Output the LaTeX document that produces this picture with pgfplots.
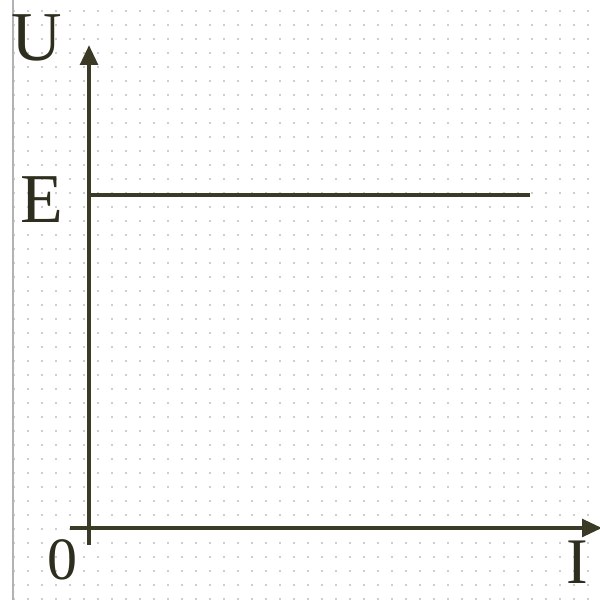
\documentclass[border=0pt]{standalone}
\usepackage{fontspec}
\setmainfont{Liberation Serif}
\usepackage{pgfplots}
\pgfplotsset{compat=1.18}
\usetikzlibrary{arrows.meta}
\definecolor{axiscol}{RGB}{58,58,38}
\definecolor{dotcol}{RGB}{205,205,205}
\begin{document}
\begin{tikzpicture}
\begin{axis}[
  scale only axis,
  width=239.6pt, height=240pt,
  xmin=-89, xmax=510,
  ymin=-72, ymax=528,
  clip=false,
  axis line style={draw=none},
  major tick length=0pt,
  xtick={-75,-61,...,510},
  ytick=\empty,
  xticklabels={}, yticklabels={},
  grid=major,
  major grid style={draw=dotcol, line width=0.8pt, dash pattern=on 0.8pt off 4.8pt},
]
% left border of the scan
\draw[gray!60, line width=0.8pt] (axis cs:-76,-72) -- (axis cs:-76,528);
% axes
\draw[axiscol, line width=1.7pt, -{Triangle[length=8pt,width=7pt]}]
  (axis cs:0,-17) -- (axis cs:0,483);
\draw[axiscol, line width=1.6pt, -{Triangle[length=8pt,width=7pt]}]
  (axis cs:-19,0) -- (axis cs:513,0);
% U = E for any I
\addplot[axiscol, line width=1.4pt] coordinates {(0,333)(441,333)};
% labels
\tikzset{lbl/.style={inner sep=0pt, text=axiscol!80!black, font=\fontsize{28}{30}\selectfont}}
\node[lbl] at (axis cs:-52,490) {U};
\node[lbl] at (axis cs:-47,328) {E};
\node[lbl, font=\fontsize{24}{26}\selectfont] at (axis cs:-27,-32) {0};
\node[lbl, font=\fontsize{26}{28}\selectfont] at (axis cs:488,-34) {I};
\coordinate (sw) at (axis cs:-89,-72);
\coordinate (ne) at (axis cs:510,528);
\end{axis}
\pgfresetboundingbox
\useasboundingbox (sw) rectangle (ne);
\end{tikzpicture}
\end{document}
